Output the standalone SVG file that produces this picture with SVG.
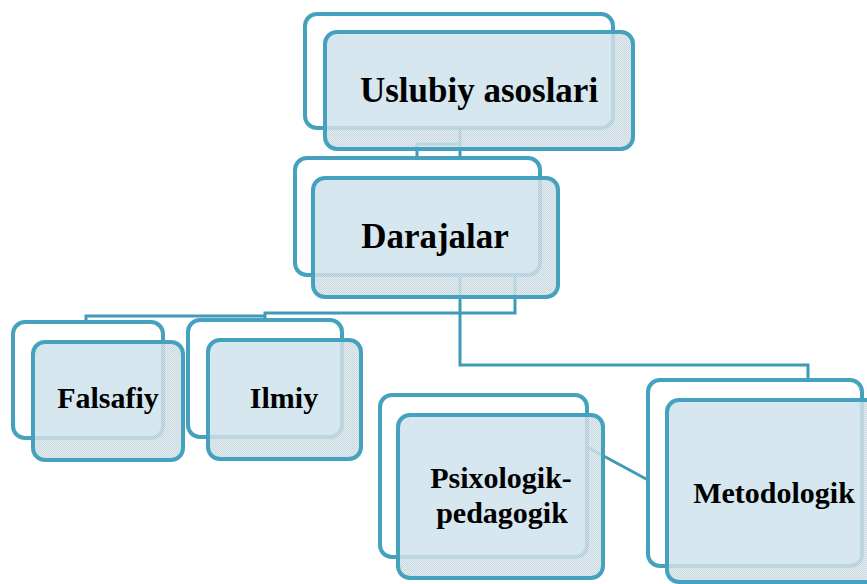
<svg xmlns="http://www.w3.org/2000/svg" width="867" height="584" viewBox="0 0 867 584">
  <style>
    .back { fill: #ffffff; stroke: #45a2be; stroke-width: 4; }
    .front-fill { fill: url(#hatch); fill-opacity: 0.86; stroke: none; }
    .inner { fill: #d6e7ef; fill-opacity: 0.9; stroke: none; }
    .front-stroke { fill: none; stroke: #45a2be; stroke-width: 4; }
    .conn { fill: none; stroke: #3e9ab6; stroke-width: 3; }
    .lbl { font-weight: bold; fill: #000000; text-anchor: middle; }
    .big { font-size: 35px; }
    .small { font-size: 30px; }
  </style>
  <defs>
    <pattern id="hatch" width="2" height="2" patternUnits="userSpaceOnUse">
      <rect width="2" height="2" fill="#d9e7ed"/>
      <rect width="1" height="1" fill="#c6d5dc"/>
      <rect x="1" y="1" width="1" height="1" fill="#c6d5dc"/>
    </pattern>
    <clipPath id="c1"><rect x="325" y="32" width="308" height="117" rx="12"/></clipPath>
    <clipPath id="c2"><rect x="313" y="178" width="245" height="119" rx="12"/></clipPath>
    <clipPath id="c3"><rect x="33" y="342" width="150" height="118" rx="12"/></clipPath>
    <clipPath id="c4"><rect x="208" y="340" width="153" height="119" rx="12"/></clipPath>
    <clipPath id="c5"><rect x="398" y="415" width="205" height="163" rx="12"/></clipPath>
    <clipPath id="c6"><rect x="667" y="400" width="214" height="182" rx="12"/></clipPath>
  </defs>

  <g id="connectors">
    <path class="conn" d="M460,128 V158 M460,144 H417 V158"/>
    <path class="conn" d="M515,275 V313 H265 V322 M265,316 H86 V322"/>
    <path class="conn" d="M460,275 V365 H808 V380"/>
    <path class="conn" d="M587,447 L648,480"/>
  </g>

  <g font-family="'Liberation Serif', 'Times New Roman', 'DejaVu Serif', serif">
  <g id="node-uslubiy">
    <rect class="back" x="305" y="14" width="308" height="114" rx="12"/>
    <rect class="front-fill" x="325" y="32" width="308" height="117" rx="12"/>
    <rect class="inner" x="307" y="16" width="304" height="110" rx="10" clip-path="url(#c1)"/>
    <rect class="front-stroke" x="325" y="32" width="308" height="117" rx="12"/>
    <text class="lbl big" x="479" y="102" font-family="Liberation Serif, serif">Uslubiy asoslari</text>
  </g>

  <g id="node-darajalar">
    <rect class="back" x="295" y="158" width="245" height="117" rx="12"/>
    <rect class="front-fill" x="313" y="178" width="245" height="119" rx="12"/>
    <rect class="inner" x="297" y="160" width="241" height="113" rx="10" clip-path="url(#c2)"/>
    <rect class="front-stroke" x="313" y="178" width="245" height="119" rx="12"/>
    <text class="lbl big" x="435" y="248" font-family="Liberation Serif, serif">Darajalar</text>
  </g>

  <g id="node-falsafiy">
    <rect class="back" x="13" y="322" width="150" height="116" rx="12"/>
    <rect class="front-fill" x="33" y="342" width="150" height="118" rx="12"/>
    <rect class="inner" x="15" y="324" width="146" height="112" rx="10" clip-path="url(#c3)"/>
    <rect class="front-stroke" x="33" y="342" width="150" height="118" rx="12"/>
    <text class="lbl small" x="108" y="408" font-family="Liberation Serif, serif">Falsafiy</text>
  </g>

  <g id="node-ilmiy">
    <rect class="back" x="188" y="320" width="154" height="117" rx="12"/>
    <rect class="front-fill" x="208" y="340" width="153" height="119" rx="12"/>
    <rect class="inner" x="190" y="322" width="150" height="113" rx="10" clip-path="url(#c4)"/>
    <rect class="front-stroke" x="208" y="340" width="153" height="119" rx="12"/>
    <text class="lbl small" x="284" y="408" font-family="Liberation Serif, serif">Ilmiy</text>
  </g>

  <g id="node-psixologik">
    <rect class="back" x="380" y="395" width="207" height="162" rx="12"/>
    <rect class="front-fill" x="398" y="415" width="205" height="163" rx="12"/>
    <rect class="inner" x="382" y="397" width="203" height="158" rx="10" clip-path="url(#c5)"/>
    <rect class="front-stroke" x="398" y="415" width="205" height="163" rx="12"/>
    <text class="lbl small" x="501" y="488" font-family="Liberation Serif, serif">Psixologik-</text>
    <text class="lbl small" x="502" y="523" font-family="Liberation Serif, serif">pedagogik</text>
  </g>

  <g id="node-metodologik">
    <rect class="back" x="648" y="380" width="214" height="186" rx="12"/>
    <rect class="front-fill" x="667" y="400" width="214" height="182" rx="12"/>
    <rect class="inner" x="650" y="382" width="210" height="182" rx="10" clip-path="url(#c6)"/>
    <rect class="front-stroke" x="667" y="400" width="214" height="182" rx="12"/>
    <text class="lbl small" x="774" y="503" font-family="Liberation Serif, serif">Metodologik</text>
  </g>
  </g>
</svg>
